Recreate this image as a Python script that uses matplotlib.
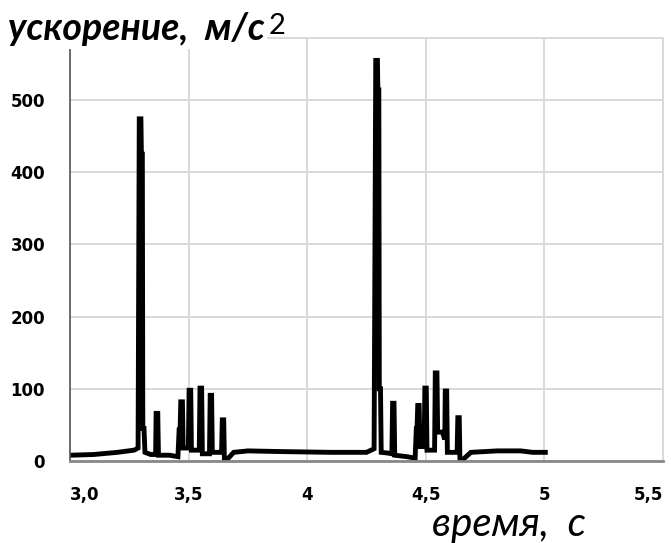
import matplotlib
matplotlib.use('Agg')
import matplotlib.pyplot as plt

# Данные: время (с) и ускорение (м/с^2), снятые с графика
# первый удар
time_1 = [3.000, 3.100, 3.200, 3.270, 3.287, 3.292, 3.299, 3.301, 3.305, 3.307,
          3.312, 3.316, 3.340, 3.361, 3.363, 3.370, 3.373, 3.420, 3.455, 3.460,
          3.464, 3.467, 3.474, 3.477, 3.499, 3.502, 3.509, 3.512, 3.545, 3.548,
          3.555, 3.558, 3.588, 3.591, 3.597, 3.600, 3.639, 3.642, 3.648, 3.651,
          3.665, 3.690, 3.750]
accel_1 = [8, 9, 12, 15, 18, 474, 474, 425, 425, 45,
           45, 12, 9, 9, 66, 66, 8, 8, 6, 43,
           43, 82, 82, 18, 18, 98, 98, 15, 15, 101,
           101, 10, 10, 91, 91, 12, 12, 57, 57, 0,
           3, 12, 14]

# второй удар
time_2 = [3.900, 4.100, 4.250, 4.282, 4.289, 4.296, 4.298, 4.302, 4.304, 4.309,
          4.312, 4.340, 4.357, 4.360, 4.366, 4.369, 4.420, 4.455, 4.460, 4.463,
          4.466, 4.472, 4.475, 4.493, 4.496, 4.502, 4.505, 4.537, 4.540, 4.547,
          4.550, 4.570, 4.580, 4.582, 4.588, 4.591, 4.632, 4.635, 4.641, 4.644,
          4.660, 4.690, 4.800, 4.900, 4.950, 5.004]
accel_2 = [13, 12, 12, 17, 555, 555, 514, 514, 100, 100,
           12, 11, 10, 80, 80, 8, 6, 4, 45, 45,
           77, 77, 20, 20, 101, 101, 15, 15, 122, 122,
           40, 40, 30, 97, 97, 12, 12, 60, 60, 0,
           3, 12, 14, 14, 12, 12]

x_ticks = [3.0, 3.5, 4.0, 4.5, 5.0, 5.5]
x_labels = ['3,0', '3,5', '4', '4,5', '5', '5,5']
y_ticks = [0, 100, 200, 300, 400, 500]

plt.rcParams['font.family'] = ['Lato', 'DejaVu Sans']

fig = plt.figure(figsize=(6.71, 5.43), dpi=100)
ax = fig.add_axes([70 / 671, 82 / 543, 593 / 671, 423 / 543])

ax.plot(time_1 + time_2, accel_1 + accel_2, color='black', linewidth=3.5,
        solid_joinstyle='miter')

ax.set_xlim(3.0, 5.5)
ax.set_ylim(0, 586)
ax.set_xticks(x_ticks)
ax.set_xticklabels(x_labels)
ax.set_yticks(y_ticks)
ax.tick_params(length=0, pad=18)
for lbl in ax.get_xticklabels() + ax.get_yticklabels():
    lbl.set_fontfamily('DejaVu Sans')
    lbl.set_fontweight('bold')
    lbl.set_fontsize(12)
xl = ax.get_xticklabels()
xl[-1].set_horizontalalignment('right')
xl[0].set_horizontalalignment('left')

ax.grid(True, color='#d9d9d9', linewidth=1.4)
ax.set_axisbelow(True)
for side in ['top', 'right']:
    ax.spines[side].set_color('#d9d9d9')
    ax.spines[side].set_linewidth(1.4)
ax.spines['left'].set_color('#555555')
ax.spines['left'].set_linewidth(1.2)
ax.spines['bottom'].set_color('#888888')
ax.spines['bottom'].set_linewidth(2)

# Подписи осей
ttl = fig.text(8 / 671, 1 - 40 / 543, 'ускорение,  м/с', fontsize=27, fontweight='bold',
               fontstyle='italic', va='baseline', ha='left',
               bbox=dict(facecolor='white', edgecolor='none', pad=2))
ax.annotate('2', xy=(1, 0), xycoords=ttl, xytext=(3, 9), textcoords='offset points',
            fontsize=21, va='baseline', ha='left')
fig.text(432 / 671, 1 - 536 / 543, 'время,  с', fontsize=29, fontstyle='italic',
         va='baseline', ha='left')

fig.savefig('out.png', dpi=100)
